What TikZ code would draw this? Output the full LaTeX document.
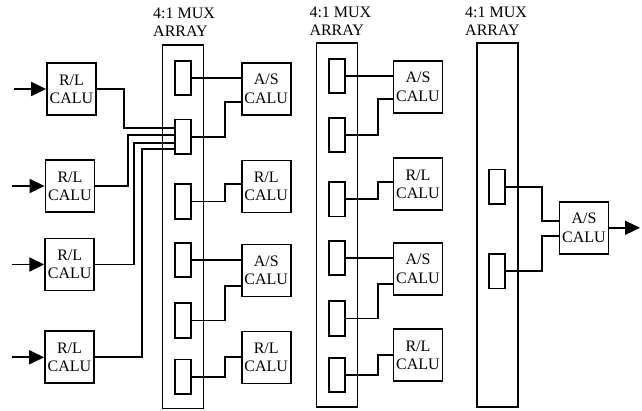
\documentclass[tikz,border=0pt]{standalone}
\usepackage{fontspec}
\setmainfont{Liberation Serif}
\usetikzlibrary{arrows.meta}
\newcommand{\labfont}{\fontsize{16}{18.3}\selectfont}
\begin{document}
\begin{tikzpicture}[x=1pt,y=-1pt,
  lw/.style={line width=1.8pt},
  calu/.style={draw,lw,minimum width=49pt,minimum height=52pt,inner sep=0pt,align=center,font=\labfont},
  muxbox/.style={draw,lw,minimum width=41pt,minimum height=364pt,inner sep=0pt},
  cell/.style={draw,lw,minimum width=16.5pt,minimum height=34.5pt,inner sep=0pt},
  title/.style={align=left,anchor=north west,inner sep=0pt,font=\labfont},
  wire/.style={lw},
  arr/.style={lw,-{Triangle[length=15pt,width=14pt]}}]
\useasboundingbox (0,0) rectangle (642,410);

% titles
\node[title] (t1) at (153,7.5) {4:1 MUX\\ARRAY};
\node[title] (t2) at (309.3,6.5) {4:1 MUX\\ARRAY};
\node[title] (t3) at (465,6.5) {4:1 MUX\\ARRAY};

% mux arrays
\node[muxbox,minimum height=363.5pt] (mux1) at (183,226.75) {};
\node[muxbox] (mux2) at (337,225.3) {};
\node[muxbox] (mux3) at (497.2,225.3) {};

% cells of mux 1
\node[cell] (m1a) at (183,77.9) {};
\node[cell] (m1b) at (183,136.7) {};
\node[cell] (m1c) at (183,201.5) {};
\node[cell] (m1d) at (183,260) {};
\node[cell] (m1e) at (183,320.5) {};
\node[cell] (m1f) at (183,376.7) {};

% cells of mux 2
\node[cell] (m2a) at (337,76) {};
\node[cell] (m2b) at (337,135) {};
\node[cell] (m2c) at (337,199.3) {};
\node[cell] (m2d) at (337,258) {};
\node[cell] (m2e) at (337,318.5) {};
\node[cell] (m2f) at (337,375) {};

% cells of mux 3
\node[cell] (m3a) at (497,186.7) {};
\node[cell] (m3b) at (497,271.2) {};

% left CALUs
\node[calu] (L1) at (71.5,89) {R/L\\CALU};
\node[calu] (L2) at (70,186) {R/L\\CALU};
\node[calu] (L3) at (69.7,264.5) {R/L\\CALU};
\node[calu] (L4) at (69.5,357.3) {R/L\\CALU};

% column 1 CALUs
\node[calu] (c1a) at (266.2,88.8) {A/S\\CALU};
\node[calu] (c1b) at (266.2,186.5) {R/L\\CALU};
\node[calu] (c1c) at (266.2,270.5) {A/S\\CALU};
\node[calu] (c1d) at (266.2,357.5) {R/L\\CALU};

% column 2 CALUs
\node[calu] (c2a) at (418,86.7) {A/S\\CALU};
\node[calu] (c2b) at (418,184.2) {R/L\\CALU};
\node[calu] (c2c) at (418,268.8) {A/S\\CALU};
\node[calu] (c2d) at (418,355.3) {R/L\\CALU};

% final CALU
\node[calu] (fin) at (584,227.8) {A/S\\CALU};

% inputs
\coordinate (in1) at (14,89);
\coordinate (in2) at (12.3,186);
\coordinate (in3) at (12.3,264.5);
\coordinate (in4) at (12.3,357.3);
\coordinate (out) at (640,227.8);
\draw[arr] (in1) -- (L1.west);
\draw[arr] (in2) -- (L2.west);
\draw[arr] (in3) -- (L3.west);
\draw[arr] (in4) -- (L4.west);

% left CALUs into mux 1 cell b
\draw[wire] (L1.east) -| (124.3,127.7) -- (m1b.west |- 124.3,127.7);
\draw[wire] (L2.east) -| (128.3,135) -- (m1b.west |- 128.3,135);
\draw[wire] (L3.east) -| (134.3,142.7) -- (m1b.west |- 134.3,142.7);
\draw[wire] (L4.east) -| (142.3,149.3) -- (m1b.west |- 142.3,149.3);

% mux 1 to column 1
\draw[wire] (m1a.east) -- (c1a.west |- m1a.east);
\draw[wire] (m1b.east) -| (225,101.7) -- (c1a.west |- 225,101.7);
\draw[wire] (m1c.east) -| (225,184.3) -- (c1b.west |- 225,184.3);
\draw[wire] (m1d.east) -- (c1c.west |- m1d.east);
\draw[wire] (m1e.east) -| (225,286) -- (c1c.west |- 225,286);
\draw[wire] (m1f.east) -| (225,356.7) -- (c1d.west |- 225,356.7);

% mux 2 to column 2
\draw[wire] (m2a.east) -- (c2a.west |- m2a.east);
\draw[wire] (m2b.east) -| (377.7,99.3) -- (c2a.west |- 377.7,99.3);
\draw[wire] (m2c.east) -| (377.7,182) -- (c2b.west |- 377.7,182);
\draw[wire] (m2d.east) -- (c2c.west |- m2d.east);
\draw[wire] (m2e.east) -| (377.7,284) -- (c2c.west |- 377.7,284);
\draw[wire] (m2f.east) -| (377.7,355) -- (c2d.west |- 377.7,355);

% mux 3 to final
\draw[wire] (m3a.east) -| (541.7,220.7) -- (fin.west |- 541.7,220.7);
\draw[wire] (m3b.east) -| (541.7,236) -- (fin.west |- 541.7,236);
\draw[arr] (fin.east) -- (out);
\end{tikzpicture}
\end{document}
